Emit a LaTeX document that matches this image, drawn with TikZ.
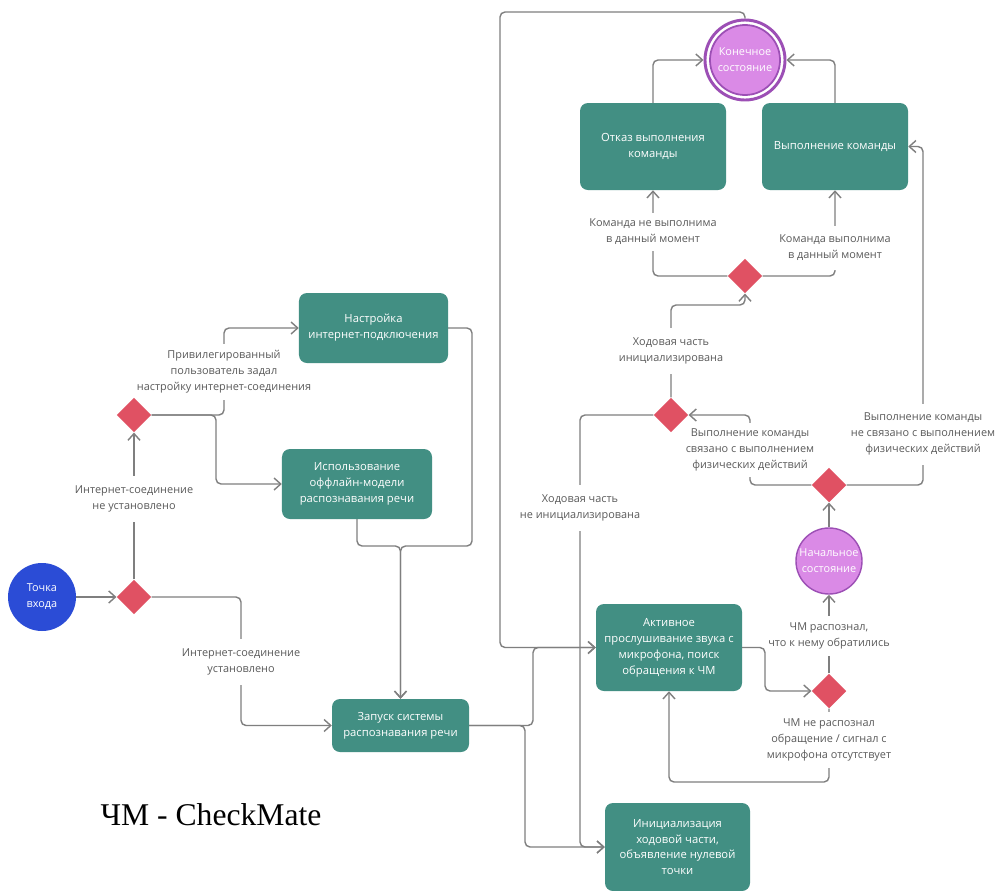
\documentclass[tikz,border=0pt]{standalone}
\usepackage{fontspec}
\setmainfont{Open Sans}
\newfontfamily\titlefont{Liberation Serif}
\usetikzlibrary{shapes.geometric,arrows.meta}
\pgfdeclarelayer{bg}
\pgfsetlayers{bg,main}
\definecolor{boxteal}{HTML}{428F83}
\definecolor{decred}{HTML}{E05163}
\definecolor{entryblue}{HTML}{2B4CD6}
\definecolor{ringpurple}{HTML}{9C4FB5}
\definecolor{statepink}{HTML}{DA8AE6}
\definecolor{linegray}{HTML}{7F7F7F}
\definecolor{labelgray}{HTML}{5A5A5A}
\begin{document}
\begin{tikzpicture}[x=0.03cm,y=-0.03cm,
  box/.style={rectangle, rounded corners=0.24cm, fill=boxteal, text=white, align=center,
    font=\fontsize{9.6}{13.6}\selectfont, inner sep=2pt},
  dec/.style={diamond, fill=decred, minimum width=1.04cm, minimum height=1.04cm, inner sep=0pt},
  conn/.style={draw=linegray, line width=1.2pt, rounded corners=0.15cm,
    -{Straight Barb[length=2mm,width=3.6mm]}},
  lbl/.style={fill=white, text=labelgray, align=center,
    font=\fontsize{9.3}{13.6}\selectfont, inner xsep=2pt, inner ysep=8pt},
  statetext/.style={text=white, align=center, font=\fontsize{9.3}{13.6}\selectfont}]
\useasboundingbox (0,0) rectangle (1000,891);

% nodes
\node[circle, fill=entryblue, minimum size=2.04cm, inner sep=0pt, statetext] (entry) at (42,597) {Точка\\входа};
\node[dec] (d1) at (134,597) {};
\node[dec] (d2) at (134,415) {};
\node[box, minimum width=4.47cm, minimum height=2.1cm] (net) at (373.5,328) {Настройка\\интернет-подключения};
\node[box, minimum width=4.5cm, minimum height=2.1cm] (off) at (357,484) {Использование\\оффлайн-модели\\распознавания речи};
\node[box, minimum width=4.11cm, minimum height=1.59cm] (zap) at (400.5,725.5) {Запуск системы\\распознавания речи};
\node[box, minimum width=4.38cm, minimum height=2.61cm] (act) at (669,647.5) {Активное\\прослушивание звука с\\микрофона, поиск\\обращения к ЧМ};
\node[box, minimum width=4.35cm, minimum height=2.64cm] (init) at (677.5,847) {Инициализация\\ходовой части,\\объявление нулевой\\точки};
\node[box, minimum width=4.38cm, minimum height=2.61cm] (ref) at (653,146.5) {Отказ выполнения\\команды};
\node[box, minimum width=4.38cm, minimum height=2.61cm] (exe) at (835,146.5) {Выполнение команды};
\node[circle, draw=ringpurple, line width=2.5pt, fill=white, minimum size=2.4cm, inner sep=0pt] (endo) at (745,60) {};
\node[circle, draw=ringpurple, line width=1.5pt, fill=statepink, minimum size=2.1cm, inner sep=0pt, statetext] (endi) at (745,60) {Конечное\\состояние};
\node[dec] (dt) at (745,276) {};
\node[dec] (dm) at (671,415) {};
\node[dec] (dr) at (829,485) {};
\node[circle, draw=ringpurple, line width=1.2pt, fill=statepink, minimum size=1.98cm, inner sep=0pt, statetext] (start) at (829,561) {Начальное\\состояние};
\node[dec] (db) at (829,691) {};

\begin{pgfonlayer}{bg}
\fill[white] (0,0) rectangle (1000,891);
% connectors
\draw[conn] (entry.east) -- (d1.west);
\draw[conn] (d1.north) -- (d2.south);
\draw[conn] (d1.east) -- (241,597) -- (241,725.5) -- (zap.west);
\draw[conn] (d2.east) -- (224,415) -- (224,328) -- (net.west);
\draw[conn] (d2.east) -- (216,415) -- (216,484) -- (off.west);
\draw[conn] (net.east) -- (472,328) -- (472,546) -- (400.5,546) -- (zap.north);
\draw[conn] (off.south) -- (357,546) -- (400.5,546) -- (zap.north);
\draw[conn] (zap.east) -- (533,725.5) -- (533,647.5) -- (act.west);
\draw[conn] (zap.east) -- (525,725.5) -- (525,847) -- (init.west);
\draw[conn] (endo.north) -- (745,12) -- (500,12) -- (500,647.5) -- (act.west);
\draw[conn] (act.east) -- (765,647.5) -- (765,691) -- (db.west);
\draw[conn] (db.north) -- (start.south);
\draw[conn] (db.south) -- (829,782) -- (669,782) -- (act.south);
\draw[conn] (start.north) -- (dr.south);
\draw[conn] (dr.west) -- (750,485) -- (750,415) -- (dm.east);
\draw[conn] (dr.east) -- (923,485) -- (923,146.5) -- (exe.east);
\draw[conn] (dm.west) -- (580,415) -- (580,847) -- (init.west);
\draw[conn] (dm.north) -- (671,305) -- (745,305) -- (dt.south);
\draw[conn] (dt.west) -- (653,276) -- (ref.south);
\draw[conn] (dt.east) -- (835,276) -- (exe.south);
\draw[conn] (ref.north) -- (653,60) -- (endo.west);
\draw[conn] (exe.north) -- (835,60) -- (endo.east);

% labels
\node[lbl] (l1) at (134,499) {Интернет-соединение\\не установлено};
\node[lbl] (l2) at (241,662) {Интернет-соединение\\установлено};
\node[lbl, inner ysep=6pt] (l3) at (224,372) {Привилегированный\\пользователь задал\\настройку интернет-соединения};
\node[lbl, inner ysep=5pt] (l4) at (653,232) {Команда не выполнима\\в данный момент};
\node[lbl] (l5) at (835,248) {Команда выполнима\\в данный момент};
\node[lbl] (l6) at (671,351) {Ходовая часть\\инициализирована};
\node[lbl, inner ysep=5pt] (l7) at (750,450) {Выполнение команды\\связано с выполнением\\физических действий};
\node[lbl] (l8) at (923,434) {Выполнение команды\\не связано с выполнением\\физических действий};
\node[lbl] (l9) at (580,508) {Ходовая часть\\не инициализирована};
\node[lbl, inner ysep=6pt] (l10) at (829,636) {ЧМ распознал,\\что к нему обратились};
\node[lbl, inner ysep=6pt] (l11) at (829,740) {ЧМ не распознал\\обращение / сигнал с\\микрофона отсутствует};
\end{pgfonlayer}

\node[font=\titlefont\fontsize{27}{32}\selectfont] (title) at (211,815) {ЧМ - CheckMate};
\end{tikzpicture}
\end{document}
